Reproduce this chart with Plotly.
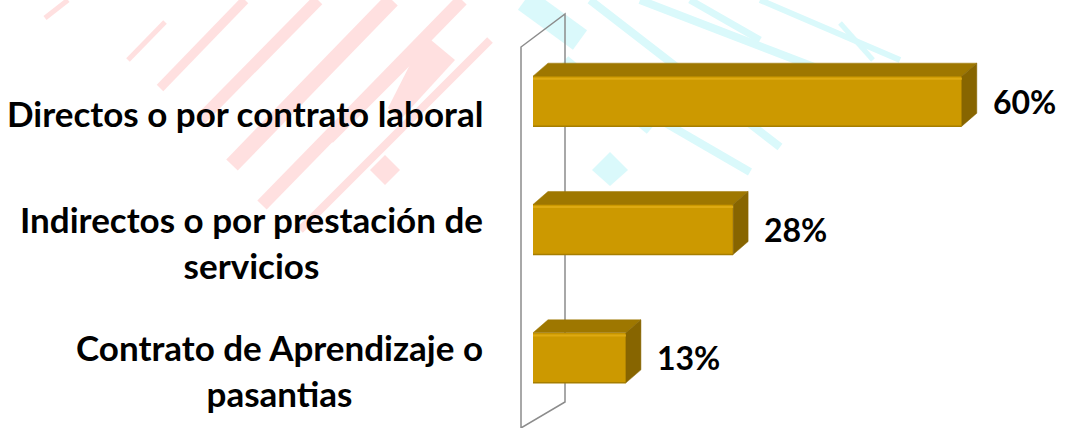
import plotly.graph_objects as go

# ---- data ----
categories = [
    "Directos o por contrato laboral",
    "Indirectos o por prestación de<br>servicios",
    "Contrato de Aprendizaje o<br>pasantias",
]
values = [60, 28, 13]
value_labels = ["60%", "28%", "13%"]

# ---- geometry / style ----
W_PX, H_PX = 1069, 428
ML, MR, MT, MB = 533, 0, 37, 6
XMAX = 75
BAR_W = 0.39
px_per_x = (W_PX - ML - MR) / XMAX
px_per_y = (H_PX - MT - MB) / 3.0
DX = 15 / px_per_x
DY = 13 / px_per_y

FRONT = "#CC9900"
TOP = "#9E7700"
SIDE = "#876500"
HILITE = "#DEAA12"

ypos = [len(values) - 1 - i for i in range(len(values))]

fig = go.Figure()

# front faces
fig.add_trace(go.Bar(
    x=values, y=ypos, orientation="h", width=BAR_W,
    marker=dict(color=FRONT, line=dict(width=0)),
    hoverinfo="skip", showlegend=False,
))

for v, y in zip(values, ypos):
    yt = y + BAR_W / 2
    yb = y - BAR_W / 2
    # soft shadow against the wall
    fig.add_trace(go.Scatter(
        x=[-0.1, 0, 0, -0.1, -0.1], y=[yb - 0.05, yb, yt + DY, yt + DY + 0.05, yb - 0.05],
        fill="toself", fillcolor="rgba(120,130,140,0.25)", mode="lines", line=dict(width=0),
        hoverinfo="skip", showlegend=False,
    ))
    # top face
    fig.add_trace(go.Scatter(
        x=[0, v, v + DX, DX, 0], y=[yt, yt, yt + DY, yt + DY, yt],
        fill="toself", fillcolor=TOP, mode="lines", line=dict(width=0.5, color=TOP),
        hoverinfo="skip", showlegend=False,
    ))
    # side face
    fig.add_trace(go.Scatter(
        x=[v, v + DX, v + DX, v, v], y=[yb, yb + DY, yt + DY, yt, yb],
        fill="toself", fillcolor=SIDE, mode="lines", line=dict(width=0.5, color=SIDE),
        hoverinfo="skip", showlegend=False,
    ))
    # highlight along the top of the front face
    fig.add_trace(go.Scatter(
        x=[0, v], y=[yt - 0.02, yt - 0.02], mode="lines",
        line=dict(width=2, color=HILITE), hoverinfo="skip", showlegend=False,
    ))
    # darker bottom edge
    fig.add_trace(go.Scatter(
        x=[0, v], y=[yb, yb], mode="lines",
        line=dict(width=1.5, color="#A67E00"), hoverinfo="skip", showlegend=False,
    ))

# ---- helpers for decorative shapes (pixel -> paper) ----
def px(xp):
    return (xp - ML) / (W_PX - ML - MR)

def py(yp):
    return (H_PX - MB - yp) / (H_PX - MT - MB)

shapes = []
PINK = "#FFE0E0"
CYAN = "#DAF9FB"

pink_stripes = [
    ((45, 18), (68, 0), 5),
    ((128, 60), (165, 22), 5),
    ((160, 88), (245, 0), 9),
    ((200, 120), (318, 0), 12),
    ((232, 165), (392, 0), 16),
    ((262, 205), (462, 0), 13),
    ((300, 230), (490, 40), 8),
    ((330, 140), (420, 50), 8),
]
for (x0, y0), (x1, y1), w in pink_stripes:
    shapes.append(dict(type="line", xref="paper", yref="paper",
                       x0=px(x0), y0=py(y0), x1=px(x1), y1=py(y1),
                       line=dict(color=PINK, width=w), layer="below"))
for cx, cy, r in [(385, 170, 15)]:
    shapes.append(dict(type="path", xref="paper", yref="paper",
                       path=f"M{px(cx-r)},{py(cy)} L{px(cx)},{py(cy-r)} L{px(cx+r)},{py(cy)} L{px(cx)},{py(cy+r)} Z",
                       fillcolor=PINK, line=dict(width=0), layer="below"))
shapes.append(dict(type="path", xref="paper", yref="paper",
                   path=f"M{px(425)},{py(35)} L{px(455)},{py(60)} L{px(400)},{py(120)} L{px(388)},{py(108)} Z",
                   fillcolor=PINK, line=dict(width=0), layer="below"))

cyan_stripes = [
    ((525, 0), (580, 40), 24),
    ((590, 0), (780, 147), 8),
    ((640, 0), (822, 70), 8),
    ((690, 0), (760, 40), 7),
    ((760, 0), (900, 60), 6),
    ((600, 85), (750, 172), 8),
    ((565, 60), (650, 130), 10),
    ((840, 23), (873, 60), 5),
]
for (x0, y0), (x1, y1), w in cyan_stripes:
    shapes.append(dict(type="line", xref="paper", yref="paper",
                       x0=px(x0), y0=py(y0), x1=px(x1), y1=py(y1),
                       line=dict(color=CYAN, width=w), layer="below"))
shapes.append(dict(type="path", xref="paper", yref="paper",
                   path=f"M{px(592)},{py(170)} L{px(610)},{py(152)} L{px(628)},{py(170)} L{px(610)},{py(186)} Z",
                   fillcolor=CYAN, line=dict(width=0), layer="below"))

# 3-D side wall outline
shapes.append(dict(type="path", xref="paper", yref="paper",
                   path=f"M{px(521)},{py(432)} L{px(521)},{py(47)} L{px(565)},{py(14)} L{px(565)},{py(402)} L{px(521)},{py(428)}",
                   line=dict(color="#8C8C8C", width=1.5), fillcolor="rgba(0,0,0,0)", layer="below"))

# ---- annotations ----
annotations = []
LABEL_FONT = dict(family="Lato", size=35, color="black", weight="bold")
VALUE_FONT = dict(family="Lato", size=32, color="black", weight="bold")
for cat, y in zip(categories, ypos):
    annotations.append(dict(
        x=0, y=y, xref="x", yref="y", text=cat, showarrow=False,
        xanchor="right", yanchor="middle", align="center",
        xshift=-48, yshift=-12, font=LABEL_FONT,
    ))
for v, lab, y in zip(values, value_labels, ypos):
    annotations.append(dict(
        x=v, y=y, xref="x", yref="y", text=lab, showarrow=False,
        xanchor="left", yanchor="middle", xshift=29, yshift=0, font=VALUE_FONT,
    ))

fig.update_layout(
    width=W_PX, height=H_PX,
    margin=dict(l=ML, r=MR, t=MT, b=MB),
    paper_bgcolor="white", plot_bgcolor="rgba(0,0,0,0)",
    xaxis=dict(range=[0, XMAX], visible=False, fixedrange=True),
    yaxis=dict(range=[-0.5, 2.5], visible=False, fixedrange=True),
    shapes=shapes, annotations=annotations,
    showlegend=False, bargap=0,
)

fig.write_html("out.html", config={"displayModeBar": False},
               post_script="document.body.style.margin='0';")
